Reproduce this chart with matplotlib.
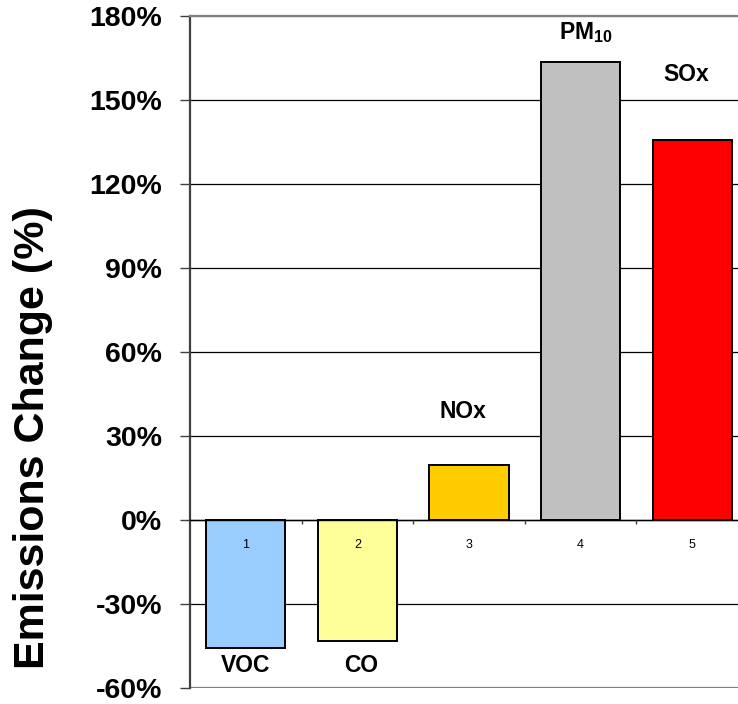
import matplotlib
matplotlib.use("Agg")
import matplotlib.pyplot as plt
from matplotlib.ticker import FixedLocator, FuncFormatter

plt.rcParams['font.family'] = ['Liberation Sans', 'DejaVu Sans']
plt.rcParams['mathtext.fontset'] = 'custom'
plt.rcParams['mathtext.rm'] = 'Liberation Sans'
plt.rcParams['mathtext.bf'] = 'Liberation Sans:bold'

# Data
pollutants = ['VOC', 'CO', 'NOx', r'$\mathbf{PM_{10}}$', 'SOx']
category_numbers = ['1', '2', '3', '4', '5']
change_pct = [-45.7, -43.2, 19.6, 163.5, 135.7]
bar_colors = ['#99CCFF', '#FFFF99', '#FFCC00', '#C0C0C0', '#FF0000']
y_ticks = [-60, -30, 0, 30, 60, 90, 120, 150, 180]

# Vertical position of each pollutant name (data units)
name_y = [-51.8, -51.8, 38.6, 174.0, 159.0]
name_dx = [0.0, 0.03, -0.05, 0.05, -0.05]

W, H = 738, 704
fig = plt.figure(figsize=(W / 100, H / 100), dpi=100)
ax = fig.add_axes([190 / W, 16 / H, 558 / W, 672 / H])

x = list(range(len(change_pct)))
ax.bar(x, change_pct, width=0.71, color=bar_colors, edgecolor='black',
       linewidth=1.4, zorder=3)

ax.set_xlim(-0.5, len(change_pct) - 0.5)
ax.set_ylim(y_ticks[0], y_ticks[-1])

# Horizontal grid
ax.yaxis.set_major_locator(FixedLocator(y_ticks))
ax.yaxis.set_major_formatter(FuncFormatter(lambda v, p: f"{v:.0f}%"))
ax.grid(axis='y', color='black', linewidth=0.9, zorder=1)
gl = ax.get_ygridlines()
gl[0].set_color('#808080'); gl[0].set_linewidth(1.6)
gl[-1].set_color('#808080'); gl[-1].set_linewidth(1.6)

ax.tick_params(axis='y', direction='out', length=7, width=1.0, color='#404040',
               pad=13, labelsize=20.5)
for lab in ax.get_yticklabels():
    lab.set_fontweight('bold')

# Spines
ax.spines['top'].set_color('#808080')
ax.spines['top'].set_linewidth(1.6)
ax.spines['right'].set_visible(False)
ax.spines['left'].set_color('#404040')
ax.spines['left'].set_linewidth(1.6)
ax.spines['bottom'].set_position(('data', 0))
ax.spines['bottom'].set_color('black')
ax.spines['bottom'].set_linewidth(1.0)
ax.spines['bottom'].set_zorder(4)

# Category numbers under the zero line (drawn over the bars), boundary ticks on it
ax.set_xticks(x)
ax.set_xticklabels(category_numbers, fontsize=9)
ax.set_xticks([i + 0.5 for i in x[:-1]], minor=True)
ax.tick_params(axis='x', which='major', length=0, pad=14)
ax.tick_params(axis='x', which='minor', direction='out', length=3, width=1.0,
               color='#404040')
ax.xaxis.set_zorder(5)

# Pollutant names
for i, (name, yv) in enumerate(zip(pollutants, name_y)):
    ax.text(i + name_dx[i], yv, name, ha='center', va='center',
            fontsize=16.5, fontweight='bold', zorder=5)

fig.text(33 / W, 1 - 438 / H, 'Emissions Change (%)', rotation=90,
         ha='center', va='center', fontsize=31, fontweight='bold')

fig.savefig('out.png', dpi=100)
